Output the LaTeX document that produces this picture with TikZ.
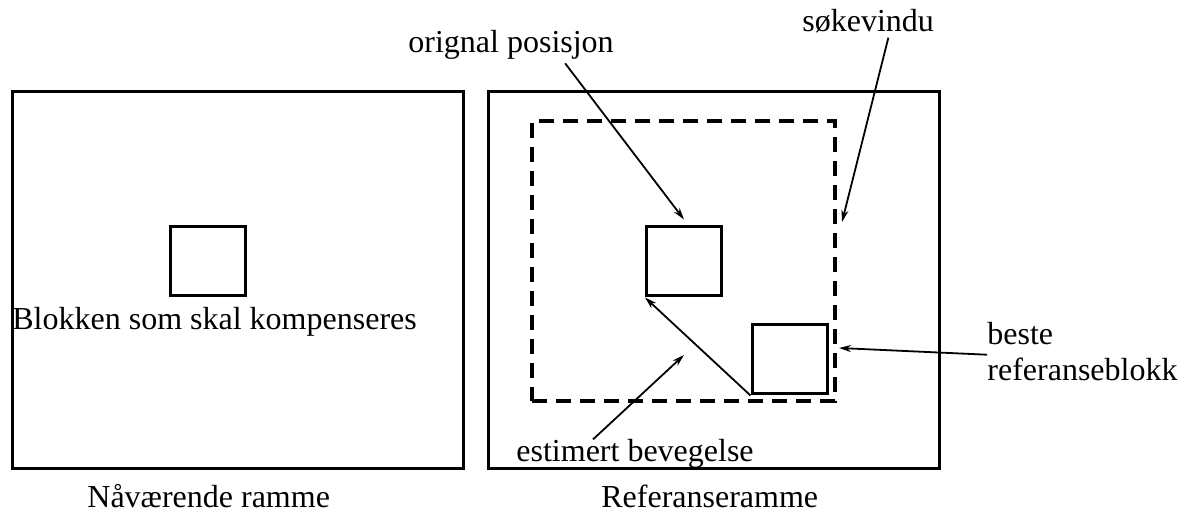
\documentclass[tikz,border=0pt]{standalone}
\usepackage{fontspec}
\setmainfont{Liberation Serif}
\usetikzlibrary{positioning,arrows.meta}
\begin{document}
\begin{tikzpicture}[x=0.5pt,y=-0.5pt,font=\fontsize{16}{19}\selectfont,
  ramme/.style={draw,line width=1.5pt,inner sep=0pt,minimum width=225.5pt,minimum height=188.5pt},
  blokk/.style={draw,line width=1.5pt,inner sep=0pt,minimum width=37.5pt,minimum height=34.5pt},
  pil/.style={-{Stealth[length=6pt,width=3.5pt]},line width=0.9pt},
  tekst/.style={inner sep=0pt,anchor=base west}]
\useasboundingbox (0,0) rectangle (1189,517);
% rammene
\node(NR1)[ramme] at (237.5,280.5){};
\node(RR1)[ramme] at (713.5,280.5){};
\node(SV)[draw,dashed,dash pattern=on 7.5pt off 4.5pt,line width=2pt,inner sep=0pt,minimum width=151.5pt,minimum height=140pt] at (683.5,261){};
% blokkene
\node(NB)[blokk] at (207.5,261.5){};
\node(OB)[blokk] at (684,261.5){};
\node(BB)[blokk] at (789.5,359.5){};
% tekster
\node(TB)[tekst] at (12,330){Blokken som skal kompenseres};
\node(TO)[tekst] at (408,53){orignal posisjon};
\node(TS)[tekst] at (802,32){søkevindu};
\node(TE)[tekst] at (516,462){estimert bevegelse};
\node(TR1)[tekst] at (987,345){beste};
\node(TR2)[tekst] at (987,381){referanseblokk};
\node(TN)[tekst] at (87,508){Nåværende ramme};
\node(TR)[tekst] at (601,508){Referanseramme};
% pilene
\coordinate(SVpil) at (842,222);
\coordinate(BEpil) at (684,355);
\draw[pil] ([xshift=-24.5pt,yshift=-1.5pt]TO.south east) -- ([yshift=3pt]OB.north);
\draw[pil] ([xshift=-23pt,yshift=-2pt]TS.south east) -- (SVpil);
\draw[pil] (BB.south west) -- (OB.south west);
\draw[pil] ([xshift=38.5pt]TE.north west) -- (BEpil);
\draw[pil] ([yshift=-4.5pt]TR1.south west) -- ([xshift=1pt,yshift=-43.5pt]SV.east);
\end{tikzpicture}
\end{document}
